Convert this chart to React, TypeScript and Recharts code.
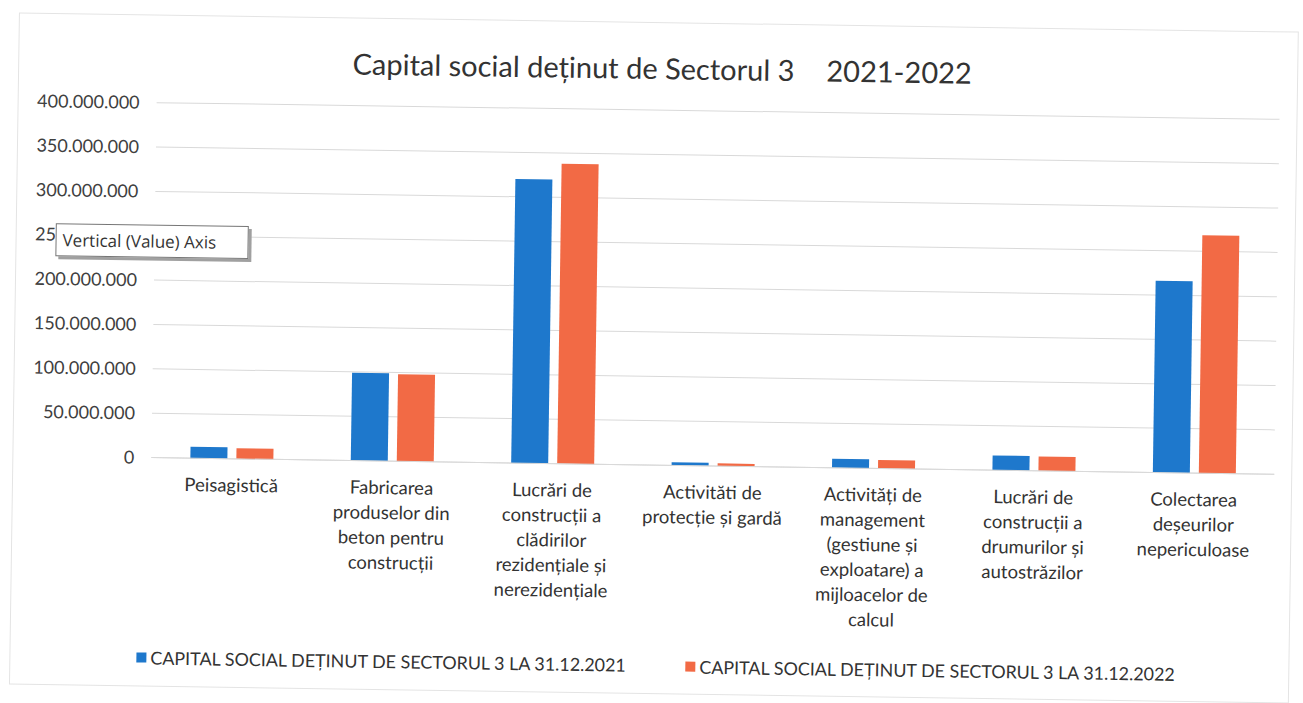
import React from 'react';
import { BarChart, Bar, XAxis, YAxis, CartesianGrid } from 'recharts';

const categories = [
  'Peisagistică',
  'Fabricarea\nproduselor din\nbeton pentru\nconstrucții',
  'Lucrări de\nconstrucții a\nclădirilor\nrezidențiale și\nnerezidențiale',
  'Activităti de\nprotecție și gardă',
  'Activități de\nmanagement\n(gestiune și\nexploatare) a\nmijloacelor de\ncalcul',
  'Lucrări de\nconstrucții a\ndrumurilor și\nautostrăzilor',
  'Colectarea\ndeșeurilor\nnepericuloase',
];

const capital2021 = [13000000, 99000000, 320000000, 3500000, 10000000, 16500000, 216000000];
const capital2022 = [12000000, 98000000, 338000000, 3000000, 9500000, 16000000, 268000000];

const yTicks = [0, 50000000, 100000000, 150000000, 200000000, 250000000, 300000000, 350000000, 400000000];

const seriesNames = [
  'CAPITAL SOCIAL DEȚINUT DE SECTORUL 3 LA 31.12.2021',
  'CAPITAL SOCIAL DEȚINUT DE SECTORUL 3 LA 31.12.2022',
];

const chartTitle = 'Capital social deținut de Sectorul 3';
const chartYears = '2021-2022';

const BLUE = '#1e78cc';
const ORANGE = '#f26a45';
const FONT = 'Lato, "Open Sans", sans-serif';

const data = categories.map((name, i) => ({
  name,
  v2021: capital2021[i],
  v2022: capital2022[i],
}));

const fmt = (v: number) => String(v).replace(/\B(?=(\d{3})+(?!\d))/g, '.');

function CategoryTick({ x, y, payload }: any) {
  const lines = String(payload.value).split('\n');
  return (
    <text x={x} y={y} textAnchor="middle" fontFamily={FONT} fontSize={18.5} fill="#333">
      {lines.map((line, i) => (
        <tspan key={i} x={x} dy={i === 0 ? 33 : 25}>
          {line}
        </tspan>
      ))}
    </text>
  );
}

export default function App() {
  return (
    <div style={{ position: 'absolute', left: 0, top: 0, width: 1303, height: 703, overflow: 'hidden', background: '#fff' }}>
      <div
        style={{
          position: 'absolute',
          left: 0,
          top: 0,
          width: 1303,
          height: 703,
          transform: 'rotate(0.85deg)',
          transformOrigin: '651px 351px',
        }}
      >
        <div style={{ position: 'absolute', left: 14, top: 22, width: 1278, height: 670, border: '1px solid #e4e4e4' }} />

        <div
          style={{
            position: 'absolute',
            left: 0,
            width: 1316,
            top: 50,
            textAlign: 'center',
            fontFamily: FONT,
            fontSize: 29,
            color: '#333',
            whiteSpace: 'pre',
          }}
        >
          {chartTitle}
          <span style={{ marginLeft: 32 }}>{chartYears}</span>
        </div>

        <BarChart
          width={1303}
          height={703}
          data={data}
          margin={{ top: 110, right: 27, bottom: 78, left: 33 }}
          barSize={37}
          barGap={9}
        >
          <CartesianGrid vertical={false} stroke="#d9d9d9" />
          <XAxis
            dataKey="name"
            axisLine={{ stroke: '#d9d9d9' }}
            tickLine={false}
            tickSize={0}
            tickMargin={0}
            height={160}
            interval={0}
            tick={<CategoryTick />}
          />
          <YAxis
            width={120}
            domain={[0, 400000000]}
            ticks={yTicks}
            axisLine={false}
            tickLine={false}
            tickSize={0}
            tickMargin={17}
            tickFormatter={fmt}
            tick={{ fontFamily: FONT, fontSize: 18, fill: '#404040' }}
          />
          <Bar dataKey="v2021" name={seriesNames[0]} fill={BLUE} isAnimationActive={false} />
          <Bar dataKey="v2022" name={seriesNames[1]} fill={ORANGE} isAnimationActive={false} />
        </BarChart>

        <div style={{ position: 'absolute', left: 141, top: 654, display: 'flex', alignItems: 'center', fontFamily: FONT, fontSize: 17.9, color: '#333', whiteSpace: 'nowrap' }}>
          <span style={{ width: 10, height: 10, background: BLUE, marginRight: 4, display: 'inline-block' }} />
          <span>{seriesNames[0]}</span>
        </div>
        <div style={{ position: 'absolute', left: 690, top: 655, display: 'flex', alignItems: 'center', fontFamily: FONT, fontSize: 17.9, color: '#333', whiteSpace: 'nowrap' }}>
          <span style={{ width: 10, height: 10, background: ORANGE, marginRight: 4, display: 'inline-block' }} />
          <span>{seriesNames[1]}</span>
        </div>

        <div
          style={{
            position: 'absolute',
            left: 54,
            top: 232,
            width: 193,
            height: 33,
            border: '1px solid #767676',
            background: '#fff',
            boxShadow: '3px 3px 0 #a0a0a0',
            fontFamily: '"Open Sans", sans-serif',
            fontSize: 17,
            color: '#333',
            lineHeight: '31px',
            paddingLeft: 6,
            boxSizing: 'border-box',
            whiteSpace: 'nowrap',
          }}
        >
          Vertical (Value) Axis
        </div>
      </div>
    </div>
  );
}
